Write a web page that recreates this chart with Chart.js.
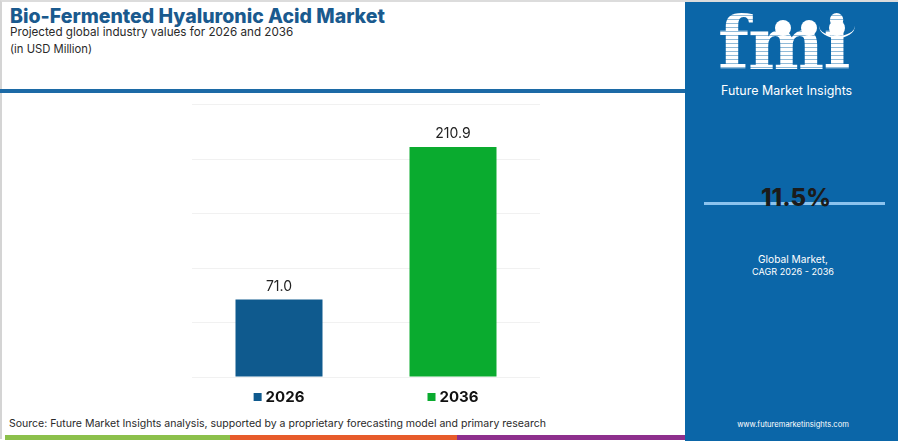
<!DOCTYPE html>
<html><head><meta charset="utf-8">
<script src="https://cdn.jsdelivr.net/npm/chart.js@4.4.0/dist/chart.umd.min.js"></script>
<style>
html,body{margin:0;padding:0;background:#fff;}
#wrap{position:relative;width:900px;height:441px;overflow:hidden;font-family:Inter,"Noto Sans",sans-serif;}
#wrap .t{position:absolute;white-space:nowrap;line-height:1;}
#frame{position:absolute;left:0;top:0;width:898px;height:439px;border-top:2px solid #dcdcdc;border-left:2px solid #d4d4d4;box-sizing:border-box;}
#hline{position:absolute;left:0;top:89px;width:685px;height:4px;background:#1c6aa6;}
#panel{position:absolute;left:685px;top:2px;width:213px;height:439px;background:#0b66a8;}
#cv{position:absolute;left:0;top:0;}
.bar{position:absolute;top:435px;height:5px;}
.stripes{background:repeating-linear-gradient(to bottom,#fff 0 3px,rgba(255,255,255,0.55) 3px 4px);-webkit-background-clip:text;background-clip:text;color:transparent;}
</style></head>
<body><div id="wrap">
<div id="frame"></div>
<div id="hline"></div>
<div id="panel"></div>
<div class="bar" style="left:5px;width:225px;background:#8cc04b"></div>
<div class="bar" style="left:230px;width:227px;background:#e75b2b"></div>
<div class="bar" style="left:457px;width:228px;background:#8e2f8d"></div>

<div class="t fit" data-w="375" style="left:10px;top:7px;font-size:22px;font-weight:800;color:#1a5a8e" id="title">Bio-Fermented Hyaluronic Acid Market</div>
<div class="t fit" data-w="283" style="left:10px;top:27px;font-size:14px;color:#2a2a2a">Projected global industry values for 2026 and 2036</div>
<div class="t fit" data-w="82" style="left:10px;top:44px;font-size:13px;color:#2a2a2a">(in USD Million)</div>
<div class="t fit" data-w="537" style="left:9px;top:419px;font-size:12px;color:#2a2a2a">Source: Future Market Insights analysis, supported by a proprietary forecasting model and primary research</div>

<!-- logo -->
<div class="t stripes" style="left:718px;top:8px;font-family:'DejaVu Serif',serif;font-weight:bold;font-size:72px;letter-spacing:-1px;">fmi</div>
<div style="position:absolute;left:775px;top:20px;width:16px;height:16px;border-radius:50%;background:#fff"></div>
<div style="position:absolute;left:801px;top:20px;width:16px;height:16px;border-radius:50%;background:#fff"></div>
<div style="position:absolute;left:829px;top:20px;width:16px;height:16px;border-radius:50%;background:#fff"></div>
<div style="position:absolute;left:819px;top:14px;width:36px;height:22px;border-bottom:2px solid #fff;border-radius:0 0 50% 50%;"></div>
<div class="t fit" data-w="131" style="left:721px;top:85px;font-size:13px;color:#fff">Future Market Insights</div>

<div style="position:absolute;left:704px;top:202px;width:181px;height:3px;background:#8cc3ee"></div>
<div class="t fit" data-w="70" data-cx="796" style="top:186px;font-size:31px;font-weight:800;color:#1b1b1b">11.5%</div>
<div class="t fit" data-w="70" data-cx="793" style="top:254px;font-size:12px;color:#fff">Global Market,</div>
<div class="t fit" data-w="82" data-cx="793" style="top:267px;font-size:12px;color:#fff">CAGR 2026 - 2036</div>
<div class="t fit" data-w="112" data-cx="793" style="top:421px;font-size:10px;color:#fff">www.futuremarketinsights.com</div>

<canvas id="cv" width="900" height="441"></canvas>
</div>
<script>
// ---- data ----
const categories = ["2026", "2036"];
const values = [71.0, 210.9];
const barColors = ["#0f5a8e", "#0aab2f"];
const yTicks = [0, 50, 100, 150, 200, 250];

// fit text widths
document.querySelectorAll('.fit').forEach(el => {
  const target = +el.dataset.w;
  let fs = parseFloat(getComputedStyle(el).fontSize);
  for (let i = 0; i < 3; i++) {
    const w = el.getBoundingClientRect().width;
    fs = fs * target / w;
    el.style.fontSize = fs + 'px';
  }
  if (el.dataset.cx) {
    const w = el.getBoundingClientRect().width;
    el.style.left = (+el.dataset.cx - w / 2) + 'px';
  }
});

const labelPlugin = {
  id: 'labels',
  afterDatasetsDraw(chart) {
    const ctx = chart.ctx;
    const meta = chart.getDatasetMeta(0);
    const xs = chart.scales.x;
    ctx.save();
    meta.data.forEach((bar, i) => {
      ctx.fillStyle = '#222';
      ctx.font = '14px Inter, "Noto Sans", sans-serif';
      ctx.textAlign = 'center';
      ctx.textBaseline = 'bottom';
      ctx.fillText(values[i].toFixed(1), bar.x, bar.y - 6);
      // legend-like label under each bar
      const cx = xs.getPixelForValue(i);
      ctx.font = 'bold 15px Inter, "Noto Sans", sans-serif';
      const tw = ctx.measureText(categories[i]).width;
      const total = 8 + 4 + tw;
      const x0 = cx - total / 2;
      ctx.fillStyle = barColors[i];
      ctx.fillRect(x0, 393, 8, 8);
      ctx.fillStyle = '#111';
      ctx.textAlign = 'left';
      ctx.textBaseline = 'middle';
      ctx.fillText(categories[i], x0 + 12, 397.5);
    });
    ctx.restore();
  }
};

new Chart(document.getElementById('cv'), {
  type: 'bar',
  data: {
    labels: categories,
    datasets: [{ data: values, backgroundColor: barColors, borderWidth: 0,
      barPercentage: 0.5, categoryPercentage: 1.0 }]
  },
  options: {
    responsive: false, animation: false,
    layout: { padding: { left: 192, right: 360, top: 104.5, bottom: 64 } },
    plugins: { legend: { display: false }, tooltip: { enabled: false } },
    scales: {
      x: { display: false },
      y: { min: yTicks[0], max: yTicks[yTicks.length - 1],
        afterBuildTicks(s) { s.ticks = yTicks.map(v => ({ value: v })); },
        ticks: { display: false },
        grid: { color: '#f1f1f1', drawTicks: false, lineWidth: 1 },
        border: { display: false } }
    }
  },
  plugins: [labelPlugin]
});
</script>
</body></html>
